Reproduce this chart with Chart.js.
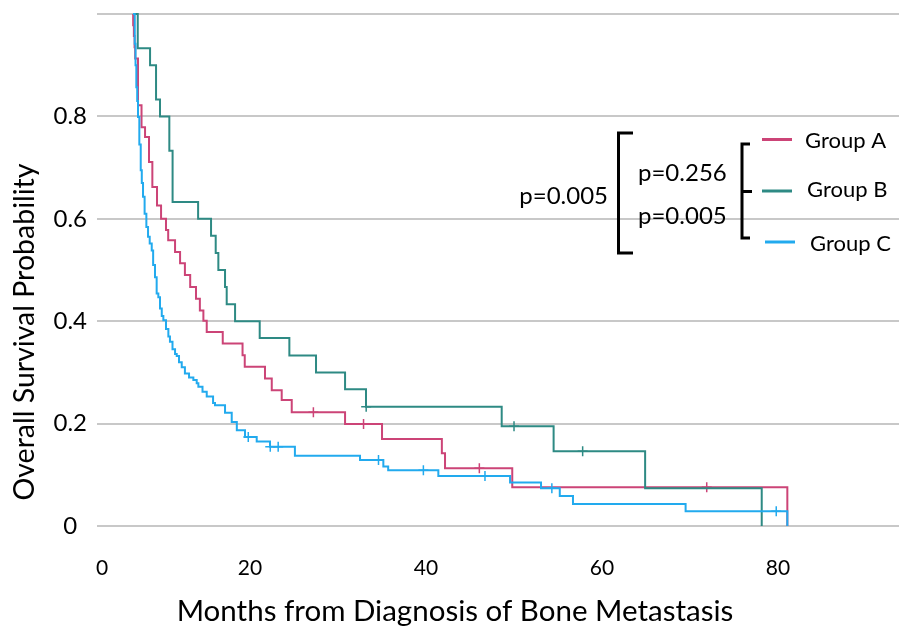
<!DOCTYPE html>
<html><head><meta charset="utf-8">
<script src="https://cdn.jsdelivr.net/npm/chart.js@4.4.1/dist/chart.umd.min.js"></script>
<style>html,body{margin:0;padding:0;background:#fff;overflow:hidden}#wrap{width:899px;height:632px}</style>
</head><body><div id="wrap"><canvas id="c" width="899" height="632"></canvas></div>
<script>
const groupNames = ['Group A', 'Group B', 'Group C'];

const groupA_months = [6.7, 6.72, 6.8, 6.88, 6.95, 7.27, 7.67, 8.07, 8.52, 8.9, 9.43, 9.89, 10.45, 10.7, 11.48, 12.05, 12.6, 13.2, 13.86, 14.3, 14.7, 15.08, 16.9, 19.15, 19.4, 21.7, 22.47, 23.6, 24.74, 30.8, 35.0, 41.8, 42.16, 49.8, 81.06];
const groupA_surv   = [1.0, 0.978, 0.957, 0.935, 0.913, 0.822, 0.779, 0.760, 0.711, 0.662, 0.626, 0.600, 0.578, 0.558, 0.535, 0.513, 0.490, 0.467, 0.444, 0.421, 0.401, 0.379, 0.3565, 0.3337, 0.311, 0.288, 0.265, 0.246, 0.222, 0.199, 0.170, 0.142, 0.1126, 0.0755, 0];
const groupA_censor = [27.2, 32.9, 46.06, 71.9];

const groupB_months = [6.7, 7.24, 8.64, 9.32, 9.77, 10.83, 11.2, 14.1, 15.57, 16.1, 16.4, 17.16, 17.35, 18.3, 21.1, 24.47, 27.5, 30.8, 33.18, 48.6, 54.5, 64.9, 78.15];
const groupB_surv   = [1.0, 0.933, 0.9, 0.833, 0.8, 0.733, 0.633, 0.6, 0.567, 0.533, 0.5, 0.467, 0.433, 0.4, 0.367, 0.333, 0.3, 0.267, 0.233, 0.195, 0.146, 0.0735, 0];
const groupB_censor = [33.2, 50.0, 57.8];

const groupC_months = [6.7, 6.9, 6.99, 7.08, 7.18, 7.27, 7.42, 7.58, 7.7, 7.84, 8.02, 8.22, 8.41, 8.6, 8.83, 8.99, 9.2, 9.39, 9.58, 9.77, 9.97, 10.15, 10.45, 10.72, 10.9, 11.19, 11.48, 11.67, 11.93, 12.24, 12.6, 13.07, 13.56, 13.94, 14.13, 14.6, 15.08, 15.8, 16.02, 17.16, 17.92, 18.5, 19.43, 20.76, 22.27, 25.1, 32.5, 35.15, 35.7, 41.4, 49.55, 53.07, 55.2, 56.7, 69.5, 81.06];
const groupC_surv   = [1.0, 0.942, 0.9, 0.857, 0.83, 0.799, 0.745, 0.695, 0.67, 0.643, 0.61, 0.584, 0.565, 0.552, 0.538, 0.51, 0.486, 0.454, 0.447, 0.425, 0.41, 0.402, 0.385, 0.37, 0.36, 0.345, 0.336, 0.332, 0.32, 0.31, 0.298, 0.29, 0.285, 0.279, 0.272, 0.262, 0.253, 0.24, 0.236, 0.221, 0.203, 0.187, 0.174, 0.165, 0.155, 0.137, 0.129, 0.116, 0.109, 0.0976, 0.085, 0.0735, 0.0585, 0.043, 0.029, 0];
const groupC_censor = [19.8, 22.3, 23.2, 34.6, 39.7, 46.7, 54.3, 79.8];

const xTickValues = [3.2, 20, 40, 60, 80];
const xTickLabels = ['0', '20', '40', '60', '80'];
const yTickValues = [0, 0.2, 0.4, 0.6, 0.8, 1.0];
const yTickLabels = ['0', '0.2', '0.4', '0.6', '0.8', ''];
const pLabels = ['p=0.005', 'p=0.256', 'p=0.005'];
const xTitle = 'Months from Diagnosis of Bone Metastasis';
const yTitle = 'Overall Survival Probability';

const colors = ['#cc4477', '#2e8a84', '#22aaee'];

function curve(months, surv) { return months.map((m, i) => ({x: m, y: surv[i]})); }
function survAt(months, surv, t) {
  let v = surv[0];
  for (let i = 0; i < months.length; i++) { if (months[i] <= t) v = surv[i]; }
  return v;
}
function marks(months, surv, cens) { return cens.map(t => ({x: t, y: survAt(months, surv, t)})); }

const series = [
  [groupA_months, groupA_surv, groupA_censor],
  [groupB_months, groupB_surv, groupB_censor],
  [groupC_months, groupC_surv, groupC_censor]
];

const datasets = [];
series.forEach((s, i) => {
  datasets.push({
    type: 'line', label: groupNames[i], data: curve(s[0], s[1]),
    borderColor: colors[i], borderWidth: 2, stepped: true, pointRadius: 0,
    fill: false, clip: 6, order: 3 - i
  });
  datasets.push({
    type: 'line', label: groupNames[i] + ' censored', data: marks(s[0], s[1], s[2]),
    showLine: false, pointStyle: 'cross', pointRadius: 5, pointBorderWidth: 1.5,
    borderColor: colors[i], pointBorderColor: colors[i], clip: 8, order: 3 - i
  });
});

const annot = {
  id: 'annot',
  afterDraw(chart) {
    const ctx = chart.ctx;
    ctx.save();
    ctx.fillStyle = '#000';
    ctx.textBaseline = 'middle';
    ctx.font = '29.5px Lato';
    ctx.textAlign = 'center';
    ctx.fillText(xTitle, 455, 611);
    ctx.font = '28.5px Lato';
    ctx.save();
    ctx.translate(25, 332);
    ctx.rotate(-Math.PI / 2);
    ctx.fillText(yTitle, 0, 0);
    ctx.restore();

    ctx.strokeStyle = '#000';
    ctx.lineWidth = 3;
    ctx.beginPath(); ctx.moveTo(633, 133); ctx.lineTo(618.5, 133); ctx.lineTo(618.5, 253); ctx.lineTo(633, 253); ctx.stroke();
    ctx.beginPath(); ctx.moveTo(750, 144); ctx.lineTo(742, 144); ctx.lineTo(742, 238); ctx.lineTo(750, 238); ctx.stroke();
    ctx.beginPath(); ctx.moveTo(742, 191.5); ctx.lineTo(752, 191.5); ctx.stroke();

    ctx.font = '24px Lato';
    ctx.textAlign = 'right';
    ctx.fillText(pLabels[0], 608, 196);
    ctx.textAlign = 'left';
    ctx.fillText(pLabels[1], 638, 173);
    ctx.fillText(pLabels[2], 638, 216);

    ctx.font = '22px Lato';
    const leg = [[762, 139.5, 805, 141], [762, 191, 807, 190], [765, 242, 810, 244]];
    leg.forEach((p, i) => {
      ctx.strokeStyle = colors[i];
      ctx.lineWidth = 3;
      ctx.beginPath(); ctx.moveTo(p[0], p[1]); ctx.lineTo(p[0] + 30, p[1]); ctx.stroke();
      ctx.fillStyle = '#000';
      ctx.fillText(groupNames[i], p[2], p[3]);
    });
    ctx.restore();
  }
};

function make() {
  new Chart(document.getElementById('c'), {
    data: {datasets},
    options: {
      responsive: false, animation: false, devicePixelRatio: 1,
      layout: {autoPadding: false, padding: {top: 14, right: 0, bottom: 0, left: 0}},
      plugins: {legend: {display: false}, tooltip: {enabled: false}},
      scales: {
        x: {
          type: 'linear', min: 2.61, max: 93.75,
          grid: {display: false}, border: {display: false},
          afterBuildTicks: s => { s.ticks = xTickValues.map(v => ({value: v})); },
          afterFit: s => { s.height = 106; s.paddingLeft = 0; s.paddingRight = 0; },
          ticks: {callback: (v, i) => xTickLabels[i], font: {family: 'Lato', size: 21}, color: '#000', padding: 22, maxRotation: 0, autoSkip: false}
        },
        y: {
          type: 'linear', min: 0, max: 1,
          afterBuildTicks: s => { s.ticks = yTickValues.map(v => ({value: v})); },
          afterFit: s => { s.width = 97; s.paddingTop = 0; s.paddingBottom = 0; },
          grid: {color: '#c8c8c8', lineWidth: 2, drawTicks: false}, border: {display: false},
          ticks: {callback: (v, i) => yTickLabels[i], crossAlign: 'center', padding: 10, font: {family: 'Lato', size: 24}, color: '#000'}
        }
      }
    },
    plugins: [annot]
  });
}
if (document.fonts && document.fonts.load) {
  document.fonts.load('20px Lato').then(make, make);
} else { make(); }
</script></body></html>
